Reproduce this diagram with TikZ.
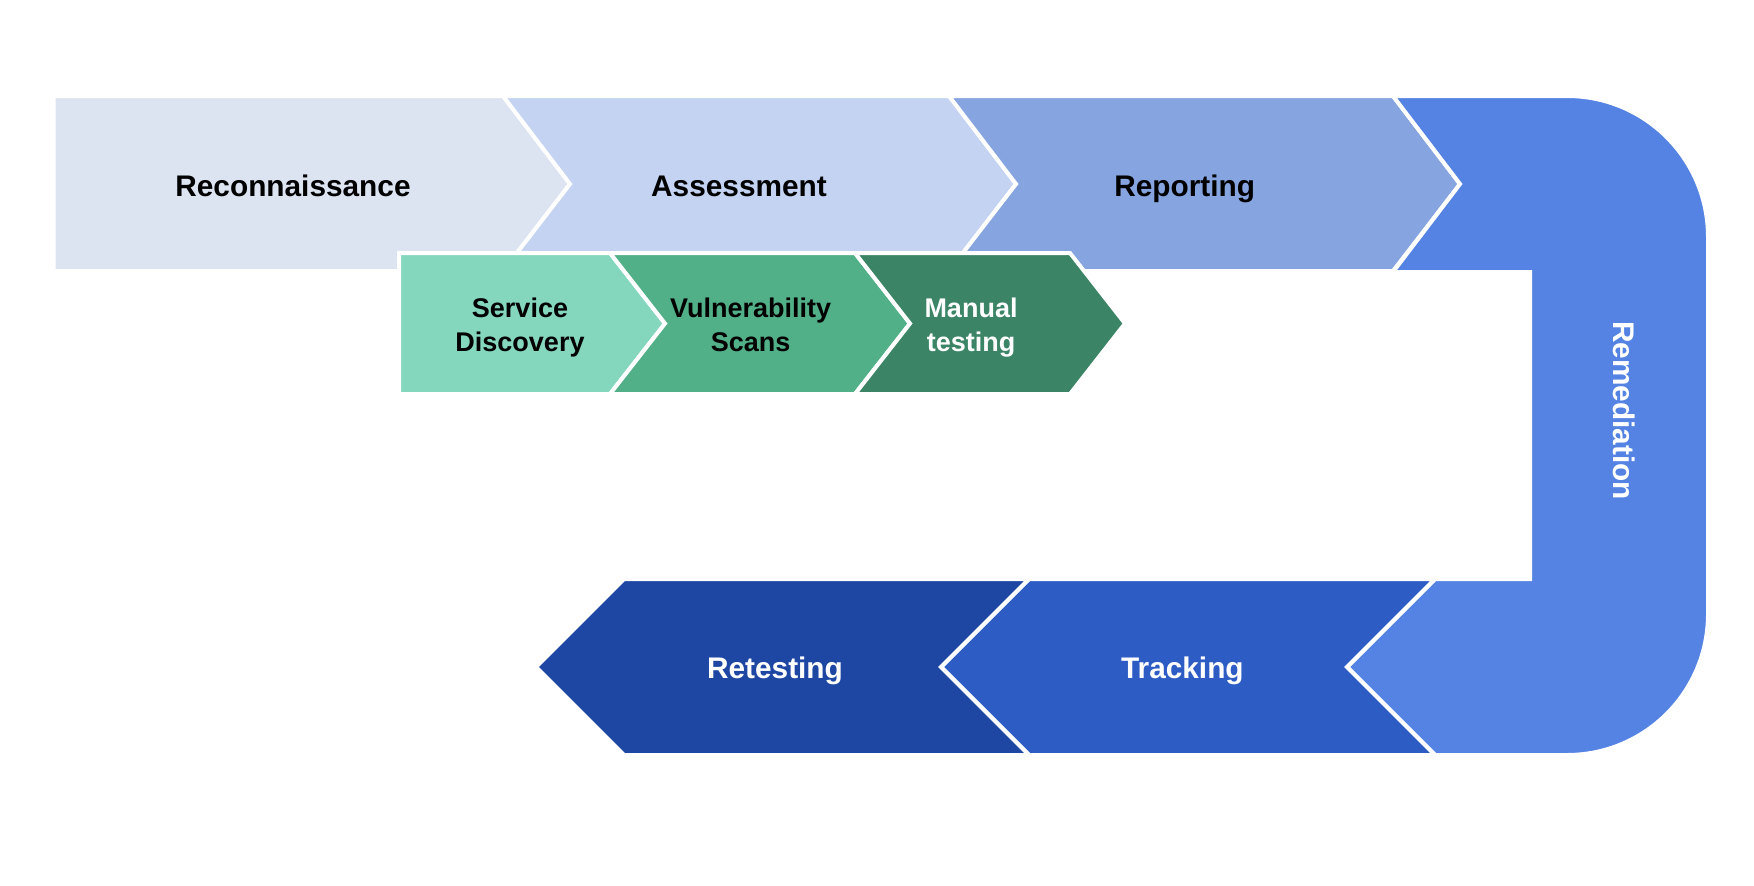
\documentclass[tikz,border=0pt]{standalone}
\usepackage{fontspec}
\setmainfont{Liberation Sans}
\begin{document}
\definecolor{cRecon}{RGB}{220,227,241}
\definecolor{cAssess}{RGB}{195,211,241}
\definecolor{cReport}{RGB}{133,164,224}
\definecolor{cRemed}{RGB}{84,131,227}
\definecolor{cTrack}{RGB}{46,92,197}
\definecolor{cRetest}{RGB}{30,71,164}
\definecolor{cService}{RGB}{132,214,188}
\definecolor{cVuln}{RGB}{82,176,136}
\definecolor{cManual}{RGB}{59,132,102}
\begin{tikzpicture}[x=1pt,y=-1pt,
  stage/.style={draw=white,line width=4pt,line join=miter},
  biglabel/.style={font=\fontsize{29.8}{36}\selectfont\bfseries,inner sep=0pt,anchor=base},
  sublabel/.style={font=\fontsize{27}{34}\selectfont\bfseries,inner sep=0pt,align=center}]
\useasboundingbox (0,0) rectangle (1754,886);
\fill[white] (0,0) rectangle (1754,886);

% top row: chevrons running left to right
\path[stage,fill=cRecon] (53.7,96) -- (503,96) -- (570,184) -- (503,271) -- (53.7,271) -- cycle;
\path[stage,fill=cAssess] (503,96) -- (949,96) -- (1016,184) -- (949,271) -- (503,271) -- (570,184) -- cycle;
\path[stage,fill=cReport] (949,96) -- (1393,96) -- (1460,184) -- (1393,271) -- (949,271) -- (1016,184) -- cycle;

% U-shaped bend on the right
\path[stage,fill=cRemed] (1393,96) -- (1567,96)
  .. controls (1645,96) and (1708,159) .. (1708,237)
  -- (1708,614)
  .. controls (1708,692) and (1645,755) .. (1567,755)
  -- (1435,755) -- (1347,667) -- (1435,579) -- (1530,579)
  -- (1530,272) -- (1393,272) -- (1460,184) -- cycle;

% bottom row: chevrons running right to left
\path[stage,fill=cTrack] (1435,579) -- (1029,579) -- (941,667) -- (1029,755) -- (1435,755) -- (1347,667) -- cycle;
\path[stage,fill=cRetest] (1029,579) -- (624,579) -- (536,667) -- (624,755) -- (1029,755) -- (941,667) -- cycle;

% sub-steps under the assessment stage
\path[stage,fill=cService] (399,253) -- (610,253) -- (665,323.5) -- (610,394) -- (399,394) -- cycle;
\path[stage,fill=cVuln] (610,253) -- (855,253) -- (910,323.5) -- (855,394) -- (610,394) -- (665,323.5) -- cycle;
\path[stage,fill=cManual] (855,253) -- (1070,253) -- (1125,323.5) -- (1070,394) -- (855,394) -- (910,323.5) -- cycle;

% labels
\node[biglabel] (recon) at (293,196) {Reconnaissance};
\node[biglabel] (assess) at (739,196) {Assessment};
\node[biglabel] (report) at (1184.6,196) {Reporting};
\node[biglabel,text=white] (track) at (1182.4,678.5) {Tracking};
\node[biglabel,text=white] (retest) at (775,678.5) {Retesting};
\node[font=\fontsize{29.8}{36}\selectfont\bfseries,inner sep=0pt,text=white,rotate=-90] (remed) at (1624,410.5) {Remediation};

\node[sublabel] (service) at (520,328) {\strut Service\\\strut Discovery};
\node[sublabel] (vuln) at (750.6,328) {\strut Vulnerability\\\strut Scans};
\node[sublabel,text=white] (manual) at (971,328) {\strut Manual\\\strut testing};
\end{tikzpicture}
\end{document}
